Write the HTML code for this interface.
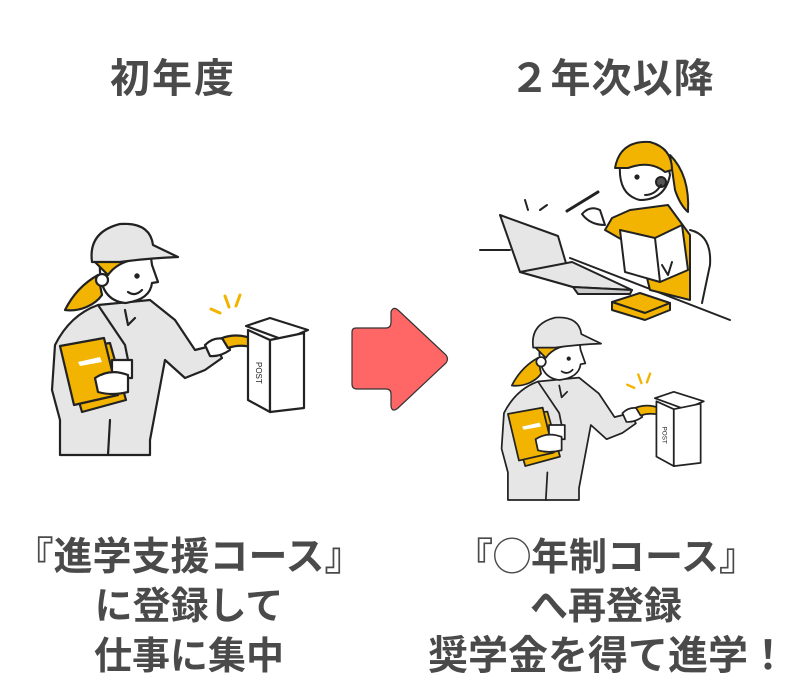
<!DOCTYPE html>
<html><head><meta charset="utf-8"><style>
html,body{margin:0;padding:0;background:#fff;width:800px;height:700px;overflow:hidden}
svg{display:block}
text{font-family:"Liberation Sans","Noto Sans CJK JP",sans-serif;font-weight:bold;fill:#4a4a4a}
</style></head><body>
<svg width="800" height="700" viewBox="0 0 800 700" xmlns="http://www.w3.org/2000/svg">
<defs>
<g id="courier" stroke="#222" stroke-width="2.2" stroke-linejoin="round" stroke-linecap="round">
  <path d="M98,275 C80,285 70,300 65,310 C80,312 95,305 102,295 Z" fill="#f2b400"/>
  <path d="M98,305 L150,300 L175,320 L195,350 L215,345 L222,358 L205,370 L185,378 L165,360 L150,440 L150,455 L60,455 L60,420 L52,390 L55,345 Q70,315 98,305 Z" fill="#e6e6e6"/>
  <line x1="110" y1="420" x2="108" y2="455"/>
  <path d="M98,305 L125,345 L130,370" fill="none"/>
  <path d="M125,310 L128,325 L135,318" fill="#e6e6e6"/>
  <path d="M100,262 Q98,300 125,303 Q150,300 152,283 L158,282 L152,265 L150,250 Z" fill="#fff"/>
  <path d="M95,262 Q110,250 150,250 L150,258 Q120,258 108,275 Z" fill="#f2b400"/>
  <circle cx="102" cy="280" r="6" fill="#fff"/>
  <circle cx="137" cy="276" r="1.6" fill="#222"/>
  <path d="M128,292 Q135,297 142,290" fill="none"/>
  <path d="M92,262 Q88,232 120,224 Q150,222 153,245 L178,257 Q150,258 120,262 Z" fill="#e6e6e6"/>
  <path d="M205,345 Q215,335 228,340 L230,350 Q220,357 210,356 Z" fill="#fff"/>
  <path d="M222,338 Q245,330 268,348 L263,352 Q245,342 228,348 Z" fill="#f2b400"/>
  <line x1="211" y1="309" x2="220" y2="313" stroke="#f2b400" stroke-width="3"/>
  <line x1="225" y1="296" x2="229" y2="307" stroke="#f2b400" stroke-width="3"/>
  <line x1="240" y1="295" x2="236" y2="306" stroke="#f2b400" stroke-width="3"/>
  <path d="M246,326 L270,318 L308,330 L284,340 Z" fill="#fff"/>
  <path d="M248,330 L248,400 L270,412 L270,340 Z" fill="#fff"/>
  <path d="M270,340 L304,333 L304,408 L270,412 Z" fill="#fff"/>
  <text x="0" y="0" transform="translate(256,362) rotate(90)" font-size="8" style="fill:#222;font-weight:normal;stroke:none">POST</text>
  <path d="M64,350 L110,343 L126,400 L82,412 Z" fill="#f2b400"/>
  <path d="M60,346 L104,338 L118,395 L74,405 Z" fill="#f2b400"/>
  <path d="M78,362 L100,357 L102,362 L80,366 Z" fill="#fff" stroke="none"/>
  <rect x="112" y="360" width="20" height="18" fill="#fff"/>
  <path d="M95,378 Q110,368 128,375 L128,392 Q112,396 98,392 Z" fill="#fff"/>
</g>
</defs>

<text x="173" y="92" font-size="40" text-anchor="middle" letter-spacing="2">初年度</text>
<text x="612" y="92" font-size="40" text-anchor="middle" letter-spacing="1">２年次以降</text>

<use href="#courier"/>
<use href="#courier" transform="translate(460.5,140.6) scale(0.79)"/>

<path d="M356,328 L386,328 Q391,328 391,322 L391,312 Q393,306 398,310 L446,355 Q449,359 446,363 L398,408 Q392,413 391,406 L391,394 Q391,389 386,389 L357,389 Q352,389 352,384 L352,332 Q352,328 356,328 Z" fill="#ff6666" stroke="#333" stroke-width="1.2"/>

<g stroke="#222" stroke-width="2" stroke-linejoin="round" stroke-linecap="round">
  <line x1="480" y1="250" x2="510" y2="250"/>
  <line x1="570" y1="258" x2="730" y2="320"/>
  <path d="M690,230 Q712,235 710,265 L702,303" fill="#fff"/>
  <path d="M630,210 L668,205 L690,235 L690,300 L650,290 L640,250 L605,230 L612,218 Z" fill="#f2b400"/>
  <path d="M670,155 Q690,175 688,212 Q680,205 675,190 Z" fill="#f2b400"/>
  <path d="M620,165 Q618,195 640,200 Q665,200 670,175 L665,150 Z" fill="#fff"/>
  <path d="M615,168 Q620,140 650,142 Q672,148 672,170 L665,172 Q650,160 628,168 Z" fill="#f2b400"/>
  <circle cx="637" cy="177" r="1.6" fill="#222"/>
  <circle cx="661" cy="182" r="5" fill="#555"/>
  <path d="M661,185 Q655,195 645,195" fill="none"/>
  <path d="M600,210 Q590,205 582,214 Q590,225 605,225 Z" fill="#fff"/>
  <line x1="567" y1="211" x2="598" y2="192" stroke-width="3"/>
  <path d="M620,230 L655,238 L682,225 L688,270 L660,282 L625,272 Z" fill="#fff"/>
  <line x1="655" y1="238" x2="660" y2="282"/>
  <path d="M662,265 L668,275 L672,262" fill="#fff"/>
  <line x1="525" y1="200" x2="528" y2="210"/>
  <line x1="540" y1="210" x2="547" y2="205"/>
  <path d="M500,215 L558,236 L573,287 L520,272 Z" fill="#e6e6e6"/>
  <path d="M520,272 L573,287 L632,290 L572,262 Z" fill="#e6e6e6"/>
  <path d="M573,287 L632,290 L630,294 L578,294 Z" fill="#ccc"/>
  <path d="M612,302 L640,293 L670,303 L645,313 Z" fill="#f2b400"/>
  <path d="M612,302 L612,310 L645,320 L670,310 L670,303 L645,313 Z" fill="#f2b400"/>
</g>

<g font-size="38">
<text x="189" y="570" text-anchor="middle" font-size="39">『進学支援コース』</text>
<text x="189" y="619" text-anchor="middle">に登録して</text>
<text x="189" y="669" text-anchor="middle">仕事に集中</text>
<text x="606" y="570" text-anchor="middle">『◯年制コース』</text>
<text x="606" y="619" text-anchor="middle">へ再登録</text>
<text x="608" y="669" text-anchor="middle" font-size="40">奨学金を得て進学！</text>
</g>
</svg>
</body></html>
